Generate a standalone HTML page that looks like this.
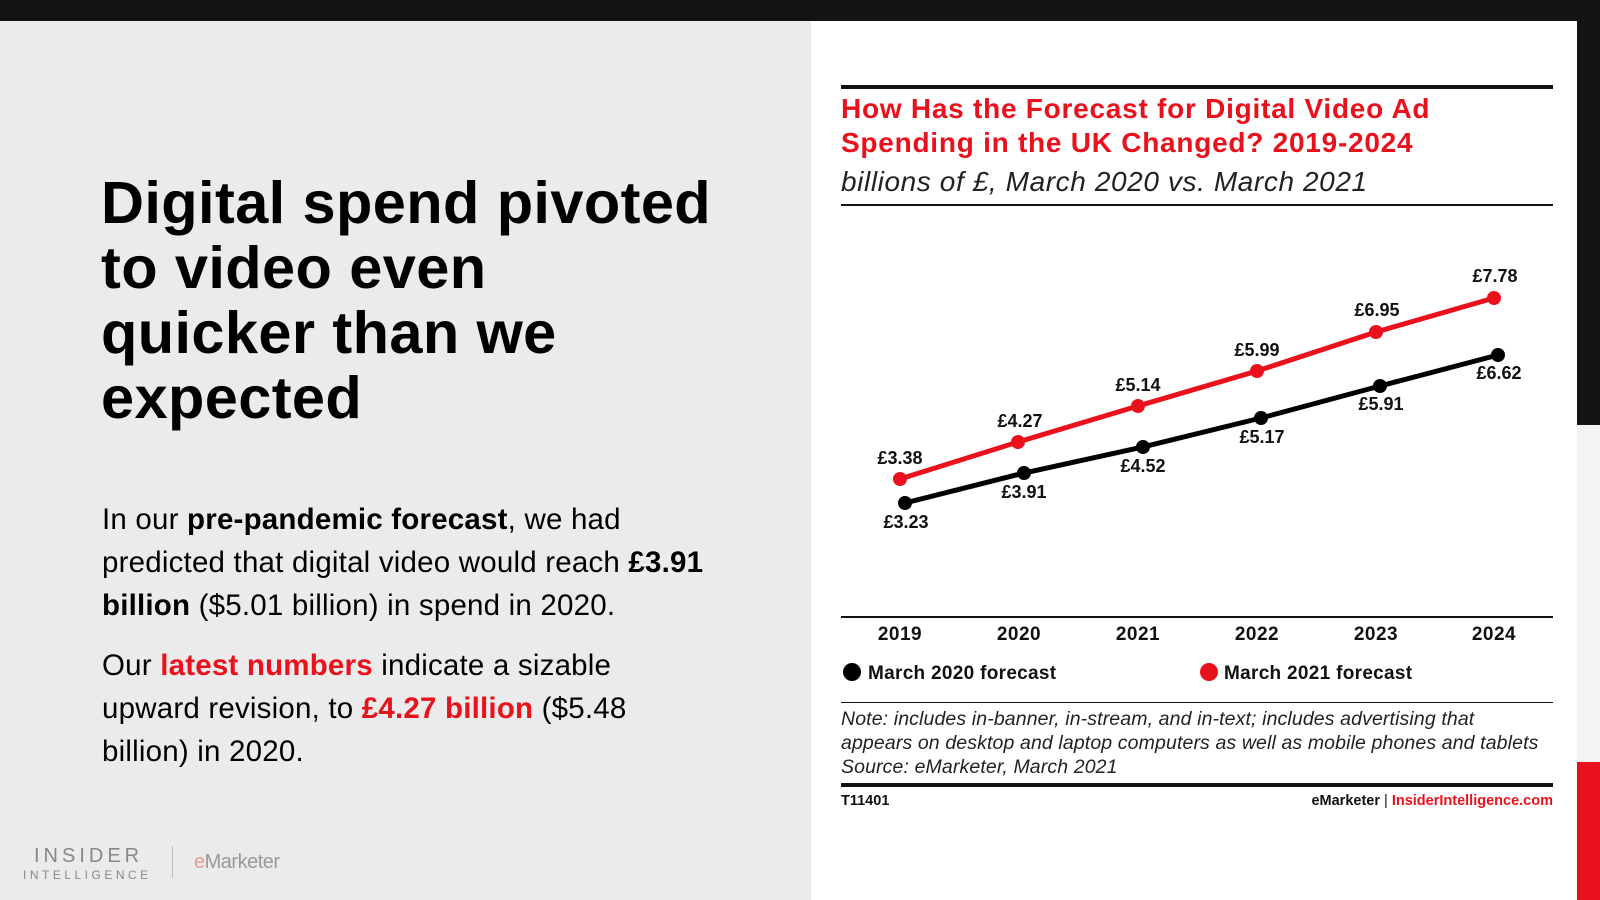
<!DOCTYPE html>
<html><head><meta charset="utf-8"><style>
html,body{margin:0;padding:0;width:1600px;height:900px;overflow:hidden;background:#ebebeb;font-family:"Liberation Sans",sans-serif}
.a{position:absolute;white-space:nowrap}
</style></head><body>
<div class="a" style="left:0;top:0;width:1600px;height:21px;background:#141414"></div>
<div class="a" style="left:811px;top:21px;width:766px;height:879px;background:#fff"></div>
<div class="a" style="left:1577px;top:0;width:23px;height:425px;background:#141414"></div>
<div class="a" style="left:1577px;top:425px;width:23px;height:337px;background:#f3f3f3"></div>
<div class="a" style="left:1577px;top:762px;width:23px;height:138px;background:#e8111c"></div>

<div class="a" style="left:101px;top:170px;font-size:59.5px;font-weight:bold;line-height:65px;letter-spacing:0.4px;color:#000">Digital spend pivoted<br>to video even<br>quicker than we<br>expected</div>
<div class="a" style="left:102px;top:498px;font-size:29.5px;letter-spacing:0.2px;line-height:43px;color:#000">In our <b>pre-pandemic forecast</b>, we had<br>predicted that digital video would reach <b>£3.91</b><br><b>billion</b> ($5.01 billion) in spend in 2020.</div>
<div class="a" style="left:102px;top:644px;font-size:29.5px;letter-spacing:0.2px;line-height:43px;color:#000">Our <b style="color:#e8111c">latest numbers</b> indicate a sizable<br>upward revision, to <b style="color:#e8111c">£4.27 billion</b> ($5.48<br>billion) in 2020.</div>

<div class="a" style="left:34px;top:845px;font-size:20px;letter-spacing:4px;color:#888">INSIDER</div>
<div class="a" style="left:23px;top:868px;font-size:12px;letter-spacing:3.5px;color:#888">INTELLIGENCE</div>
<div class="a" style="left:172px;top:846px;width:1px;height:32px;background:#bbb"></div>
<div class="a" style="left:194px;top:851px;font-size:20px;color:#999;letter-spacing:-0.5px"><span style="color:#e99">e</span>Marketer</div>

<div class="a" style="left:841px;top:85px;width:712px;height:4px;background:#111"></div>
<div class="a" style="left:841px;top:92px;font-size:28px;font-weight:bold;line-height:34px;letter-spacing:0.75px;color:#e8111c">How Has the Forecast for Digital Video Ad<br>Spending in the UK Changed? 2019-2024</div>
<div class="a" style="left:841px;top:166px;font-size:28px;font-style:italic;letter-spacing:0.6px;color:#222">billions of £, March 2020 vs. March 2021</div>
<div class="a" style="left:841px;top:204px;width:712px;height:2px;background:#111"></div>

<svg class="a" style="left:0;top:0" width="1600" height="900" font-family="Liberation Sans,sans-serif" font-weight="bold" font-size="18" text-anchor="middle">
<polyline fill="none" stroke="#e8111c" stroke-width="5" points="900,479 1018,442 1138,406 1257,371 1376,332 1494,298"/>
<polyline fill="none" stroke="#000" stroke-width="5" points="905,503 1024,473 1143,447 1261,418 1380,386 1498,355"/>
<g fill="#e8111c"><circle cx="900" cy="479" r="7"/><circle cx="1018" cy="442" r="7"/><circle cx="1138" cy="406" r="7"/><circle cx="1257" cy="371" r="7"/><circle cx="1376" cy="332" r="7"/><circle cx="1494" cy="298" r="7"/></g>
<g fill="#000"><circle cx="905" cy="503" r="7"/><circle cx="1024" cy="473" r="7"/><circle cx="1143" cy="447" r="7"/><circle cx="1261" cy="418" r="7"/><circle cx="1380" cy="386" r="7"/><circle cx="1498" cy="355" r="7"/></g>
<g fill="#111">
<text x="900" y="464">£3.38</text><text x="1020" y="427">£4.27</text><text x="1138" y="391">£5.14</text><text x="1257" y="356">£5.99</text><text x="1377" y="316">£6.95</text><text x="1495" y="282">£7.78</text>
<text x="906" y="528">£3.23</text><text x="1024" y="498">£3.91</text><text x="1143" y="472">£4.52</text><text x="1262" y="443">£5.17</text><text x="1381" y="410">£5.91</text><text x="1499" y="379">£6.62</text>
</g>
<rect x="841" y="616" width="712" height="2" fill="#111"/>
<g fill="#111" font-size="19" letter-spacing="0.5"><text x="900" y="640">2019</text><text x="1019" y="640">2020</text><text x="1138" y="640">2021</text><text x="1257" y="640">2022</text><text x="1376" y="640">2023</text><text x="1494" y="640">2024</text></g>
<circle cx="852" cy="672" r="9" fill="#000"/><circle cx="1209" cy="672" r="9" fill="#e8111c"/>
<g text-anchor="start" fill="#111" font-size="19" letter-spacing="0.3"><text x="868" y="679">March 2020 forecast</text><text x="1224" y="679">March 2021 forecast</text></g>
</svg>
<div class="a" style="left:841px;top:702px;width:712px;height:1px;background:#111"></div>
<div class="a" style="left:841px;top:707px;font-size:19.5px;font-style:italic;letter-spacing:0.12px;line-height:24px;color:#222">Note: includes in-banner, in-stream, and in-text; includes advertising that<br>appears on desktop and laptop computers as well as mobile phones and tablets<br>Source: eMarketer, March 2021</div>
<div class="a" style="left:841px;top:783px;width:712px;height:4px;background:#111"></div>
<div class="a" style="left:841px;top:793px;font-size:14.5px;font-weight:bold;color:#111">T11401</div>
<div class="a" style="right:47px;top:793px;font-size:14.5px;font-weight:bold;color:#111">eMarketer <span style="font-weight:normal">|</span> <span style="color:#e8111c">InsiderIntelligence.com</span></div>
</body></html>
